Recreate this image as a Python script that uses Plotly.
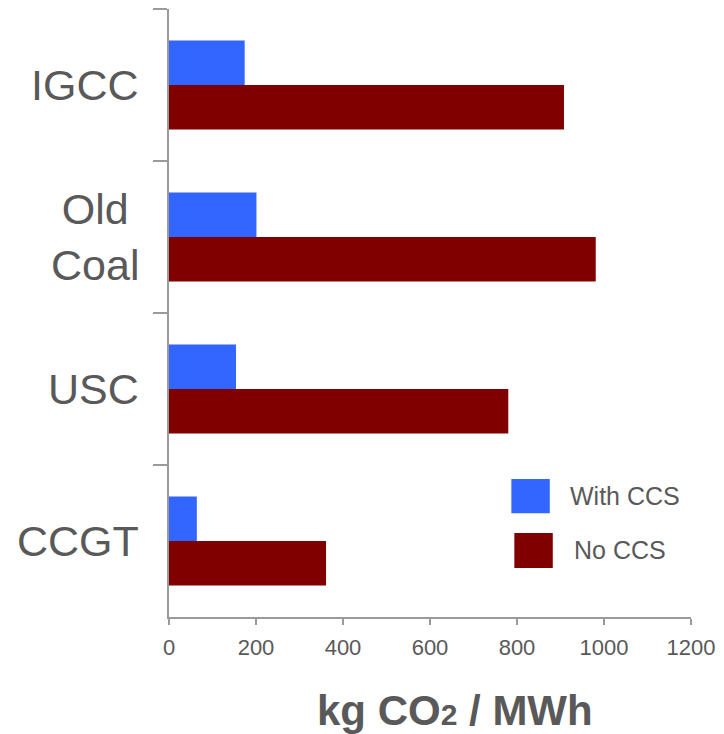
import plotly.graph_objects as go

categories = ["IGCC", "Old Coal", "USC", "CCGT"]
category_labels = ["IGCC", "Old<br>Coal", "USC", "CCGT"]
with_ccs = [174, 201, 154, 64]
no_ccs = [908, 981, 780, 361]
series_names = ["With CCS", "No CCS"]
series_colors = ["#3366FF", "#800000"]
x_ticks = [0, 200, 400, 600, 800, 1000, 1200]

FONT = "Liberation Sans, Arial, sans-serif"
GRAY = "#595959"
AXIS = "#9a9a9a"

fig = go.Figure()
for name, vals, col in zip(series_names, [with_ccs, no_ccs], series_colors):
    fig.add_trace(go.Bar(y=categories, x=vals, name=name, orientation="h",
                         marker=dict(color=col, line=dict(width=0)),
                         showlegend=False))

fig.update_layout(
    width=724, height=734,
    margin=dict(l=169, r=29, t=9, b=117),
    paper_bgcolor="white", plot_bgcolor="white",
    barmode="group", bargap=0.414, bargroupgap=0,
    font=dict(family=FONT, color=GRAY),
)
fig.update_xaxes(range=[0, 1200], tickvals=x_ticks, ticktext=[str(v) for v in x_ticks],
                 showgrid=False, zeroline=False, showline=True, linecolor=AXIS, linewidth=1.5,
                 ticks="outside", ticklen=6, tickcolor=AXIS, tickwidth=1.5,
                 tickfont=dict(size=22, color=GRAY, family=FONT), ticklabelstandoff=4)
fig.update_yaxes(type="category", categoryorder="array", categoryarray=categories,
                 range=[3.5, -0.5], showgrid=False, zeroline=False,
                 showline=True, linecolor=AXIS, linewidth=2,
                 ticks="outside", ticklen=14, tickcolor=AXIS, tickwidth=2,
                 tickson="boundaries", showticklabels=False)

# category labels
for cat, lab in zip(categories, category_labels):
    fig.add_annotation(x=-0.0532, xref="paper", y=cat, yref="y", text=lab,
                       xanchor="right", yanchor="middle", align="center",
                       showarrow=False, font=dict(size=43, color=GRAY, family=FONT))

# axis title
fig.add_annotation(x=0.5485, xref="paper", y=-0.1546, yref="paper",
                   text="<b>kg CO<span style='font-size:30px'>2</span> / MWh</b>",
                   xanchor="center", yanchor="middle", showarrow=False,
                   font=dict(size=42, color=GRAY, family=FONT))

# legend
legend_boxes = [(0.6559, 0.7295, 0.1706, 0.2270), (0.6616, 0.7352, 0.0806, 0.1382)]
legend_text = [(0.7637, 0.1990), (0.7719, 0.1102)]
for name, col, (x0, x1, y0, y1), (tx, ty) in zip(series_names, series_colors, legend_boxes, legend_text):
    fig.add_shape(type="rect", xref="paper", yref="paper", x0=x0, x1=x1, y0=y0, y1=y1,
                  fillcolor=col, line=dict(width=0))
    fig.add_annotation(x=tx, xref="paper", y=ty, yref="paper", text=name,
                       xanchor="left", yanchor="middle", showarrow=False,
                       font=dict(size=25, color=GRAY, family=FONT))

fig.write_html("out.html", config={"displayModeBar": False},
               post_script="document.body.style.margin='0';document.body.style.overflow='hidden';")
